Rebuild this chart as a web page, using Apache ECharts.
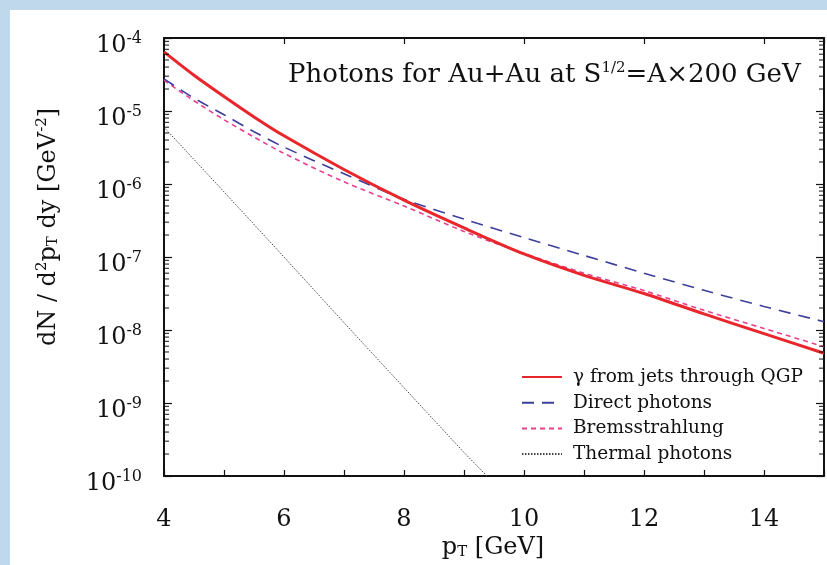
<!DOCTYPE html>
<html><head><meta charset="utf-8">
<script src="https://cdn.jsdelivr.net/npm/echarts@6/dist/echarts.min.js"></script>
<style>html,body{margin:0;padding:0;background:#bfd8ec;} #c{width:827px;height:565px;}</style>
</head><body><div id="c"></div><script>
// ---- data ----
const pT = [4, 4.5, 5, 5.5, 6, 7, 8, 9, 10, 11, 12, 13, 14, 15];
const jetsQGP = [6.46e-5, 3.09e-5, 1.58e-5, 8.3e-6, 4.57e-6, 1.58e-6, 6.0e-7, 2.5e-7, 1.1e-7, 5.6e-8, 3.16e-8, 1.66e-8, 8.9e-9, 4.8e-9];
const directPhotons = [2.75e-5, 1.5e-5, 8.9e-6, 5.2e-6, 3.2e-6, 1.38e-6, 6.2e-7, 3.3e-7, 1.85e-7, 1.05e-7, 6.0e-8, 3.5e-8, 2.1e-8, 1.3e-8];
const bremsstrahlung = [2.63e-5, 1.38e-5, 7.6e-6, 4.4e-6, 2.63e-6, 1.07e-6, 5.0e-7, 2.24e-7, 1.12e-7, 6.0e-8, 3.47e-8, 1.86e-8, 1.05e-8, 5.9e-9];
const pTThermal = [4, 5, 6, 7, 8, 9, 10];
const thermalPhotons = [6.0e-6, 7.8e-7, 1.0e-7, 1.26e-8, 1.62e-9, 2.1e-10, 3.0e-11];
const xTicks = [4, 6, 8, 10, 12, 14];
const yExponents = [-10, -9, -8, -7, -6, -5, -4];
const seriesNames = ['\u03b3 from jets through QGP', 'Direct photons', 'Bremsstrahlung', 'Thermal photons'];

const serif = '"DejaVu Serif", "Liberation Serif", serif';
const yMin = Math.pow(10, yExponents[0]), yMax = Math.pow(10, yExponents[yExponents.length - 1]);
const xMin = xTicks[0], xMax = 15;

// minor log tick values 2..9 x 10^n
const minorVals = [];
for (let e = yExponents[0]; e < yExponents[yExponents.length - 1]; e++) {
  for (let k = 2; k <= 9; k++) minorVals.push([xMin, k * Math.pow(10, e)]);
}
const zip = (xs, ys) => xs.map((x, i) => [x, ys[i]]);

const chart = echarts.init(document.getElementById('c'));
const supRich = {
  b: { fontFamily: serif, fontSize: 24, color: '#111' },
  s: { fontFamily: serif, fontSize: 16, color: '#111', padding: [0, 0, 14, 0] }
};
chart.setOption({
  backgroundColor: 'transparent',
  animation: false,
  graphic: [
    { type: 'rect', left: 10, top: 10, shape: { width: 817, height: 555 }, style: { fill: '#ffffff' }, z: -10, silent: true },
    { type: 'text', left: 288, top: 61, z: 10,
      style: { text: '{a|Photons for Au+Au at S}{s|1/2}{a|=A\u00d7200 GeV}',
        rich: { a: { fontFamily: serif, fontSize: 26, fill: '#111' }, s: { fontFamily: serif, fontSize: 15, fill: '#111', padding: [0, 0, 13, 0] } } } },
    { type: 'text', x: 49, y: 227, rotation: Math.PI / 2, z: 10,
      style: { text: '{a|dN / d}{s|2}{a|p}{u|T}{a| dy [GeV}{s|-2}{a|]}', align: 'center', verticalAlign: 'middle',
        rich: { a: { fontFamily: serif, fontSize: 24, fill: '#111' },
                s: { fontFamily: serif, fontSize: 15, fill: '#111', padding: [0, 0, 13, 0] },
                u: { fontFamily: serif, fontSize: 15, fill: '#111', padding: [9, 0, 0, 0] } } } },
    { type: 'text', x: 493, y: 548, z: 10,
      style: { text: '{a|p}{u|T}{a| [GeV]}', align: 'center', verticalAlign: 'middle',
        rich: { a: { fontFamily: serif, fontSize: 24, fill: '#111' },
                u: { fontFamily: serif, fontSize: 15, fill: '#111', padding: [9, 0, 0, 0] } } } }
  ],
  grid: { left: 164, top: 38, width: 660, height: 438, show: false },
  legend: {
    data: seriesNames, orient: 'vertical', left: 516, top: 362,
    itemWidth: 40, itemHeight: 14, itemGap: 5.7,
    itemStyle: { opacity: 0 },
    textStyle: { fontFamily: serif, fontSize: 18.5, lineHeight: 20, color: '#111', padding: [0, 0, 0, 6] },
    backgroundColor: '#fff'
  },
  xAxis: [
    { type: 'value', min: xMin, max: xMax, interval: 2, position: 'bottom',
      axisLine: { show: true, lineStyle: { color: '#111', width: 2 } },
      axisTick: { show: true, inside: true, length: 6, lineStyle: { color: '#111', width: 1.2 } },
      minorTick: { show: true, splitNumber: 2, length: 6, lineStyle: { color: '#111', width: 1.2 } },
      splitLine: { show: false },
      axisLabel: { margin: 32, showMaxLabel: false, fontFamily: serif, fontSize: 24, color: '#111',
        formatter: v => xTicks.indexOf(v) >= 0 ? String(v) : '' } },
    { type: 'value', min: xMin, max: xMax, interval: 2, position: 'top',
      axisLine: { show: true, lineStyle: { color: '#111', width: 2 } },
      axisTick: { show: true, inside: true, length: 6, lineStyle: { color: '#111', width: 1.2 } },
      splitLine: { show: false }, axisLabel: { show: false } }
  ],
  yAxis: [
    { type: 'log', logBase: 10, min: yMin, max: yMax, splitNumber: 6, position: 'left',
      axisLine: { show: true, lineStyle: { color: '#111', width: 2 } },
      axisTick: { show: true, inside: true, length: 8, lineStyle: { color: '#111', width: 1.2 } },
      splitLine: { show: false },
      axisLabel: { margin: 22, color: '#111', rich: supRich, padding: [16, 0, 0, 0],
        formatter: v => '{b|10}{s|' + Math.round(Math.log10(v)) + '}' } },
    { type: 'log', logBase: 10, min: yMin, max: yMax, splitNumber: 6, position: 'right',
      axisLine: { show: true, lineStyle: { color: '#111', width: 2 } },
      axisTick: { show: true, inside: true, length: 8, lineStyle: { color: '#111', width: 1.2 } },
      splitLine: { show: false }, axisLabel: { show: false } }
  ],
  series: [
    { name: seriesNames[3], type: 'line', data: zip(pTThermal, thermalPhotons), showSymbol: false, symbol: 'none', clip: true,
      lineStyle: { color: '#444', width: 1, type: [1.5, 1.5] }, itemStyle: { color: '#444' }, z: 3 },
    { name: seriesNames[2], type: 'line', data: zip(pT, bremsstrahlung), smooth: 0.3, showSymbol: false, symbol: 'none',
      lineStyle: { color: '#e8408f', width: 1.6, type: [5, 4] }, itemStyle: { color: '#e8408f' }, z: 4 },
    { name: seriesNames[1], type: 'line', data: zip(pT, directPhotons), smooth: 0.3, showSymbol: false, symbol: 'none',
      lineStyle: { color: '#3e3e9e', width: 1.6, type: [12, 8] }, itemStyle: { color: '#3e3e9e' }, z: 5 },
    { name: seriesNames[0], type: 'line', data: zip(pT, jetsQGP), smooth: 0.3, showSymbol: false, symbol: 'none',
      lineStyle: { color: '#e8262b', width: 3 }, itemStyle: { color: '#e8262b' }, z: 6 },
    { type: 'custom', silent: true, clip: false, data: minorVals, z: 7,
      renderItem: (params, api) => {
        const v = api.value(1);
        const a = api.coord([xMin, v]);
        const b = api.coord([xMax, v]);
        return { type: 'group', children: [
          { type: 'line', shape: { x1: a[0], y1: a[1], x2: a[0] + 5, y2: a[1] }, style: { stroke: '#111', lineWidth: 1 } },
          { type: 'line', shape: { x1: b[0], y1: b[1], x2: b[0] - 5, y2: b[1] }, style: { stroke: '#111', lineWidth: 1 } }
        ] };
      } }
  ]
});
</script></body></html>
